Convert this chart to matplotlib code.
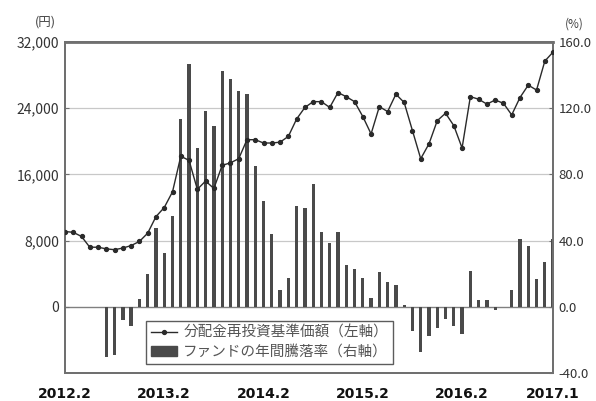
import numpy as np
import matplotlib.pyplot as plt
from matplotlib.lines import Line2D
from matplotlib.patches import Patch

plt.rcParams['font.family'] = ['Noto Sans CJK JP', 'DejaVu Sans']

# Monthly data, 2012.2 -> 2017.1
months = np.arange(60)
tick_pos = [0, 12, 24, 36, 48, 59]
tick_labels = ["2012.2", "2013.2", "2014.2", "2015.2", "2016.2", "2017.1"]

# 分配金再投資基準価額 (円, left axis)
nav = [9100, 9000, 8500, 7200, 7200, 7000, 6900, 7100, 7400, 7900,
       8900, 10900, 12000, 13900, 18200, 17700, 14200, 15200, 14300, 17100,
       17400, 17900, 20200, 20200, 19800, 19800, 19900, 20600, 22700, 24100,
       24800, 24800, 24100, 25900, 25400, 24800, 23000, 20900, 24200, 23600,
       25700, 24700, 21300, 17900, 19700, 22500, 23400, 21900, 19200, 25400,
       25100, 24500, 25000, 24600, 23200, 25300, 26800, 26200, 29700, 30800]

# ファンドの年間騰落率 (%, right axis)
ret = [0, 0, 0, 0, 0, -30.4, -29.0, -8.0, -11.5, 4.6,
       19.7, 47.5, 32.4, 55.0, 113.6, 147.0, 96.0, 118.6, 109.0, 142.6,
       137.6, 130.3, 128.6, 85.3, 64.0, 43.9, 10.3, 17.1, 61.0, 59.6,
       74.3, 45.5, 38.5, 44.9, 25.4, 22.8, 17.1, 5.6, 21.3, 15.1,
       13.3, 1.0, -14.9, -27.6, -17.9, -13.0, -7.2, -11.7, -16.4, 21.8,
       4.0, 4.0, -2.0, 0, 9.9, 40.9, 36.5, 16.8, 26.8, 40.9]

fig = plt.figure(figsize=(5.96, 4.01), dpi=100)
ax = fig.add_axes([0.109, 0.070, 0.819, 0.825])
ax2 = ax.twinx()

# bars on the right axis, behind the line
ax2.bar(months, ret, width=0.4, color="#4a4a4a", zorder=2)
ax2.set_ylim(-40, 160)
ax2.set_yticks([-40, 0, 40, 80, 120, 160])
ax2.set_yticklabels(["-40.0", "0.0", "40.0", "80.0", "120.0", "160.0"])

ax.set_zorder(ax2.get_zorder() + 1)
ax.patch.set_visible(False)
ax.plot(months, nav, color="#2a2a2a", lw=1.0, marker="o", ms=2.8, zorder=5)
ax.set_ylim(-8000, 32000)
ax.set_yticks([0, 8000, 16000, 24000, 32000])
ax.set_yticklabels(["0", "8,000", "16,000", "24,000", "32,000"])
ax.set_xlim(0, 59)
ax.set_xticks(tick_pos)
ax.set_xticklabels(tick_labels, fontweight="bold", family="DejaVu Sans")

for v in [8000, 16000, 24000]:
    ax2.axhline(v / 200, color="#c8c8c8", lw=0.9, zorder=1)
ax2.axhline(0, color="#808080", lw=1.0, zorder=1)

for a in (ax, ax2):
    for s in a.spines.values():
        s.set_color("#707070")
        s.set_linewidth(1.4)
    a.tick_params(direction="in", length=3, width=0.8, color="#707070",
                  labelcolor="#333333", pad=4)
ax.spines["top"].set_linewidth(2.0)
ax.tick_params(axis="y", labelsize=10)
ax2.tick_params(axis="y", labelsize=9.5)
ax.tick_params(axis="x", length=0, pad=10, labelsize=10, labelcolor="#111111")

fig.text(0.0755, 0.945, "(円)", fontsize=9, color="#444444", ha="center", va="center")
fig.text(0.963, 0.940, "(%)", fontsize=8.5, color="#444444", ha="center", va="center")

handles = [Line2D([], [], color="#2a2a2a", lw=1.0, marker="o", ms=2.8),
           Patch(facecolor="#4a4a4a", edgecolor="#4a4a4a")]
labels = ["分配金再投資基準価額（左軸）", "ファンドの年間騰落率（右軸）"]
leg = ax.legend(handles, labels, loc="lower left", bbox_to_anchor=(0.166, 0.027),
                fontsize=10.5, frameon=True, fancybox=False, borderpad=0.35,
                labelspacing=0.35, handlelength=1.8, handletextpad=0.4,
                borderaxespad=0)
leg.get_frame().set_edgecolor("#333333")
leg.get_frame().set_linewidth(1.0)
for t in leg.get_texts():
    t.set_color("#555555")

fig.savefig("out.png", dpi=100)
